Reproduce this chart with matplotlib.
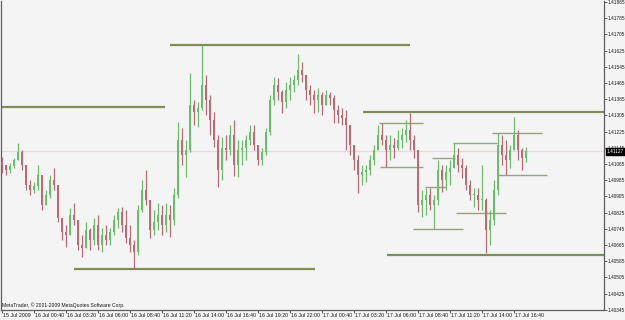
import matplotlib
matplotlib.use('Agg')
import matplotlib.pyplot as plt
from matplotlib.patches import Rectangle
from matplotlib.font_manager import FontProperties, findfont
from matplotlib.textpath import TextPath

# ---------------- data (EURUSD-like quotes, 20-minute bars) ----------------
first_open = 1.41075
highs = [1.41099, 1.41060, 1.41070, 1.41095, 1.41169, 1.41134, 1.41060, 1.40986, 1.40976, 1.41060,
         1.40996, 1.40936, 1.41010, 1.41045, 1.40961, 1.40788, 1.40764, 1.40848, 1.40872, 1.40778,
         1.40714, 1.40778, 1.40749, 1.40798, 1.40813, 1.40749, 1.40764, 1.40749, 1.40813, 1.40848,
         1.40852, 1.40838, 1.40764, 1.40689, 1.40862, 1.40986, 1.41035, 1.40887, 1.40838, 1.40872,
         1.40862, 1.40872, 1.40862, 1.40946, 1.41272, 1.41243, 1.41183, 1.41514, 1.41381, 1.41371,
         1.41653, 1.41505, 1.41406, 1.41322, 1.41208, 1.41198, 1.41208, 1.41258, 1.41282, 1.41183,
         1.41183, 1.41208, 1.41258, 1.41258, 1.41134, 1.41144, 1.41243, 1.41406, 1.41495, 1.41490,
         1.41430, 1.41470, 1.41495, 1.41505, 1.41608, 1.41569, 1.41505, 1.41455, 1.41430, 1.41440,
         1.41420, 1.41430, 1.41420, 1.41406, 1.41356, 1.41342, 1.41332, 1.41258, 1.41159, 1.41109,
         1.41060, 1.41060, 1.41109, 1.41159, 1.41258, 1.41267, 1.41208, 1.41208, 1.41193, 1.41233,
         1.41243, 1.41282, 1.41317, 1.41208, 1.41134, 1.40936, 1.40946, 1.40946, 1.40912, 1.41085,
         1.41060, 1.41060, 1.41085, 1.41169, 1.41144, 1.41095, 1.41060, 1.40986, 1.40946, 1.40946,
         1.41060, 1.40897, 1.40838, 1.40986, 1.41218, 1.41208, 1.41183, 1.41159, 1.41297, 1.41233,
         1.41144, 1.41149]
lows = [1.41020, 1.41010, 1.41020, 1.41045, 1.41085, 1.41035, 1.40936, 1.40912, 1.40922, 1.40936,
        1.40838, 1.40872, 1.40897, 1.40936, 1.40778, 1.40689, 1.40655, 1.40729, 1.40764, 1.40640,
        1.40605, 1.40665, 1.40640, 1.40665, 1.40640, 1.40630, 1.40665, 1.40665, 1.40714, 1.40749,
        1.40729, 1.40675, 1.40630, 1.40546, 1.40615, 1.40828, 1.40862, 1.40699, 1.40714, 1.40739,
        1.40714, 1.40729, 1.40704, 1.40764, 1.40897, 1.41060, 1.41001, 1.41124, 1.41258, 1.41248,
        1.41332, 1.41307, 1.41208, 1.41149, 1.40951, 1.40986, 1.41085, 1.41109, 1.41006, 1.41001,
        1.41060, 1.41085, 1.41159, 1.41134, 1.41060, 1.41060, 1.41109, 1.41208, 1.41356, 1.41381,
        1.41317, 1.41342, 1.41381, 1.41420, 1.41455, 1.41470, 1.41381, 1.41356, 1.41317, 1.41322,
        1.41307, 1.41356, 1.41356, 1.41267, 1.41267, 1.41258, 1.41134, 1.41109, 1.41035, 1.40922,
        1.40961, 1.40976, 1.41010, 1.41060, 1.41134, 1.41159, 1.41050, 1.41085, 1.41095, 1.41134,
        1.41144, 1.41174, 1.41134, 1.41095, 1.40828, 1.40803, 1.40813, 1.40838, 1.40744, 1.40862,
        1.40927, 1.40936, 1.40961, 1.41045, 1.41025, 1.40996, 1.40936, 1.40887, 1.40852, 1.40838,
        1.40838, 1.40625, 1.40665, 1.40764, 1.40912, 1.41060, 1.41010, 1.41045, 1.41134, 1.41085,
        1.41035, 1.41075]
closes = [1.41060, 1.41035, 1.41055, 1.41085, 1.41124, 1.41060, 1.40961, 1.40936, 1.40956, 1.41010,
          1.40862, 1.40912, 1.40986, 1.40961, 1.40798, 1.40729, 1.40714, 1.40813, 1.40788, 1.40665,
          1.40650, 1.40739, 1.40689, 1.40764, 1.40665, 1.40714, 1.40689, 1.40729, 1.40788, 1.40828,
          1.40764, 1.40699, 1.40665, 1.40630, 1.40838, 1.40936, 1.40887, 1.40739, 1.40778, 1.40813,
          1.40764, 1.40813, 1.40788, 1.40912, 1.41183, 1.41109, 1.41134, 1.41356, 1.41322, 1.41342,
          1.41455, 1.41381, 1.41282, 1.41183, 1.41035, 1.41144, 1.41134, 1.41208, 1.41060, 1.41134,
          1.41144, 1.41183, 1.41223, 1.41159, 1.41085, 1.41124, 1.41223, 1.41381, 1.41455, 1.41420,
          1.41371, 1.41430, 1.41455, 1.41480, 1.41529, 1.41505, 1.41430, 1.41406, 1.41381, 1.41406,
          1.41356, 1.41406, 1.41391, 1.41332, 1.41307, 1.41292, 1.41258, 1.41159, 1.41085, 1.41010,
          1.41025, 1.41035, 1.41085, 1.41134, 1.41208, 1.41183, 1.41134, 1.41159, 1.41144, 1.41183,
          1.41208, 1.41233, 1.41183, 1.41134, 1.40862, 1.40887, 1.40912, 1.40862, 1.40887, 1.41035,
          1.40986, 1.41025, 1.41045, 1.41109, 1.41060, 1.41045, 1.40961, 1.40912, 1.40912, 1.40887,
          1.40887, 1.40739, 1.40788, 1.40936, 1.41159, 1.41109, 1.41085, 1.41134, 1.41208, 1.41134,
          1.41095, 1.41127]
current_price = 1.41127

time_labels = ['15 Jul 2009', '16 Jul 00:40', '16 Jul 03:20', '16 Jul 06:00', '16 Jul 08:40',
               '16 Jul 11:20', '16 Jul 14:00', '16 Jul 16:40', '16 Jul 19:20', '16 Jul 22:00',
               '17 Jul 00:40', '17 Jul 03:20', '17 Jul 06:00', '17 Jul 08:40', '17 Jul 11:20',
               '17 Jul 14:00', '17 Jul 16:40']
time_label_bars = [0, 8, 16, 24, 32, 40, 48, 56, 64, 72, 80, 88, 96, 104, 112, 120, 128]

price_ticks = [1.41865, 1.41785, 1.41705, 1.41625, 1.41545, 1.41465, 1.41385, 1.41305, 1.41225,
               1.41145, 1.41065, 1.40985, 1.40905, 1.40825, 1.40745, 1.40665, 1.40585, 1.40505,
               1.40425, 1.40345]

# support / resistance levels: price, start bar, end bar
major_levels = [1.41346, 1.41653, 1.40546, 1.41322, 1.40615]
major_start = [-0.5, 42.0, 18.0, 90.25, 96.25]
major_end = [40.75, 102.0, 78.25, 151.0, 151.0]
minor_levels = [1.41267, 1.41050, 1.41169, 1.41095, 1.40951, 1.40744, 1.40823, 1.41218, 1.41010]
minor_start = [94.25, 94.5, 112.75, 107.5, 105.75, 102.75, 113.5, 122.5, 123.75]
minor_end = [105.25, 105.25, 123.75, 113.25, 111.0, 115.25, 126.0, 135.0, 136.25]

# ---------------- fonts ----------------
def pick_family():
    for fam in ['Liberation Sans Narrow', 'DejaVu Sans Condensed', 'Liberation Sans', 'DejaVu Sans']:
        try:
            findfont(FontProperties(family=fam), fallback_to_default=False)
            return fam
        except Exception:
            continue
    return 'DejaVu Sans'

FAM = pick_family()

def fit_size(s, target_px):
    tp = TextPath((0, 0), s, size=10, prop=FontProperties(family=FAM))
    w = tp.get_extents().width
    return 10 * target_px / (w * 100 / 72)

FS_Y = fit_size('1.41865', 16.5)
FS_X = fit_size('16 Jul 00:40', 28)
FS_T = fit_size('MetaTrader, © 2001-2009 MetaQuotes Software Corp.', 120)

# ---------------- drawing ----------------
W, H = 625, 320
BG = '#f4f4f4'
UP = '#6dbb6d'
DOWN = '#b86c76'
TXT = '#1a1a1a'

fig = plt.figure(figsize=(W / 100, H / 100), dpi=100, facecolor=BG)
ax = fig.add_axes([1 / W, 10 / H, 603 / W, 309 / H])
ax.set_facecolor(BG)
ymin, ymax = 1.403437, 1.418700
ax.set_xlim(-0.25, 150.5)
ax.set_ylim(ymin, ymax)

# bid line
ax.axhline(current_price, color='#ead6d6', lw=0.9, zorder=1)

# levels
for lv, s, e in zip(major_levels, major_start, major_end):
    ax.plot([s, e], [lv, lv], color='#7f8d58', lw=1.6, solid_capstyle='butt', zorder=2)
for lv, s, e in zip(minor_levels, minor_start, minor_end):
    ax.plot([s, e], [lv, lv], color='#97a184', lw=1.0, solid_capstyle='butt', zorder=2)

# candles
prev = first_open
for i, (h, l, c) in enumerate(zip(highs, lows, closes)):
    o = prev
    col = UP if c >= o else DOWN
    hi = max(h, o, c)
    lo = min(l, o, c)
    ax.plot([i, i], [lo, hi], color=col, lw=0.9, solid_capstyle='butt', zorder=3)
    ax.add_patch(Rectangle((i - 0.28, min(o, c)), 0.56, max(abs(c - o), 0.00003),
                           facecolor=col, edgecolor='none', zorder=3))
    prev = c

# frame
ax.spines['top'].set_visible(False)
for side in ['left', 'right', 'bottom']:
    ax.spines[side].set_color('#606060')
    ax.spines[side].set_linewidth(0.9)

ax.yaxis.tick_right()
ax.set_yticks(price_ticks)
ax.set_yticklabels([f'{p:.5f}' for p in price_ticks], fontsize=FS_Y, family=FAM, color=TXT)
ax.tick_params(axis='y', direction='out', length=2, width=0.6, pad=0.8, colors='#404040',
               labelcolor=TXT)

ax.set_xticks(time_label_bars)
ax.set_xticklabels([])
ax.tick_params(axis='x', direction='out', length=2, width=0.6, colors='#404040')
for b, t in zip(time_label_bars, time_labels):
    ax.annotate(t, xy=(b, 0), xycoords=('data', 'axes fraction'), xytext=(0.6, -2.2),
                textcoords='offset points', ha='left', va='top', fontsize=FS_X, family=FAM,
                color=TXT, annotation_clip=False)

# current price tag
ax.annotate(f'{current_price:.5f}', xy=(1, current_price), xycoords=('axes fraction', 'data'),
            xytext=(1.8, 0), textcoords='offset points', ha='left', va='center', fontsize=FS_Y,
            family=FAM, color='white', annotation_clip=False, zorder=10,
            bbox=dict(boxstyle='square,pad=0.2', fc='black', ec='black'))

ax.text(0.002, 0.008, 'MetaTrader, © 2001-2009 MetaQuotes Software Corp.', transform=ax.transAxes,
        fontsize=FS_T, family=FAM, color=TXT, ha='left', va='bottom')

fig.savefig('out.png', dpi=100, facecolor=BG)
